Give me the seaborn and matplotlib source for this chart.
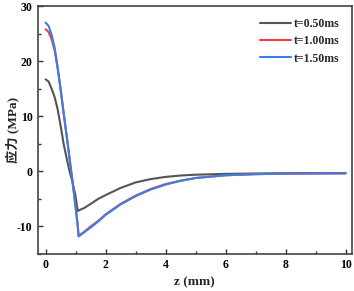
import numpy as np
import pandas as pd
import matplotlib
matplotlib.use('Agg')
import matplotlib.pyplot as plt
from matplotlib.ticker import MultipleLocator
import seaborn as sns

sns.set_theme(style='ticks')
plt.rcParams['font.family'] = ['Liberation Serif', 'Noto Sans CJK SC']
plt.rcParams['font.weight'] = 'bold'
plt.rcParams['axes.unicode_minus'] = False

# 读图得到的数据
z = [0.0, 0.1, 0.2, 0.3, 0.4, 0.5, 0.6, 0.7, 0.8, 0.9, 1.0, 1.07, 1.1,
     1.3, 1.5, 1.75, 2.0, 2.5, 3.0, 3.5, 4.0, 4.5, 5.0, 6.0, 7.0, 8.0, 9.0, 10.0]
s_050 = [16.7, 16.3, 15.0, 13.5, 11.3, 8.3, 5.0, 2.4, 0.0, -2.0, -4.5, -7.2, -7.1,
         -6.6, -5.9, -5.0, -4.3, -3.0, -2.0, -1.4, -1.0, -0.75, -0.6, -0.45, -0.38, -0.33, -0.3, -0.3]
s_100 = [25.8, 25.3, 24.0, 22.0, 18.7, 14.8, 10.6, 6.5, 2.3, -2.0, -6.5, -9.8, -11.7,
         -10.9, -10.0, -9.0, -7.8, -5.9, -4.4, -3.2, -2.3, -1.7, -1.2, -0.7, -0.5, -0.4, -0.37, -0.35]
s_150 = [27.0, 26.4, 24.8, 22.5, 19.0, 15.0, 10.7, 6.5, 2.3, -2.0, -6.5, -9.8, -11.8,
         -11.0, -10.2, -9.1, -7.9, -6.0, -4.5, -3.3, -2.4, -1.7, -1.2, -0.7, -0.5, -0.4, -0.37, -0.35]
labels = ['t=0.50ms', 't=1.00ms', 't=1.50ms']
colors = ['#555555', '#f03c3c', '#3a7ee6']

df = pd.concat([pd.DataFrame({'z': z, 's': v, 't': lab})
                for v, lab in zip([s_050, s_100, s_150], labels)])

fig = plt.figure(figsize=(3.54, 2.91), dpi=100)
ax = fig.add_axes([0.106, 0.127, 0.887, 0.852])
sns.lineplot(data=df, x='z', y='s', hue='t', palette=colors, linewidth=1.5, ax=ax)

ax.set_xlim(-0.27, 10.2)
ax.set_ylim(-15, 30)
ax.xaxis.set_major_locator(MultipleLocator(2))
ax.xaxis.set_minor_locator(MultipleLocator(1))
ax.yaxis.set_major_locator(MultipleLocator(10))
ax.yaxis.set_minor_locator(MultipleLocator(5))
ax.tick_params(which='both', direction='in', labelsize=8.5, colors='#333333', labelcolor='black')
ax.tick_params(which='major', length=3.5, width=1)
ax.tick_params(which='minor', length=2, width=1)
for sp in ax.spines.values():
    sp.set_color('#444444')
    sp.set_linewidth(1.2)

ax.set_xlabel('z (mm)', fontsize=9.5, fontweight='bold')
ax.set_ylabel('应力 (MPa)', fontsize=9.5, fontweight='bold')
ax.yaxis.set_label_coords(-0.058, 0.5)
ax.legend(frameon=False, loc='upper right', fontsize=8.5, handlelength=2.6,
          handletextpad=0.3, labelspacing=0.45, borderaxespad=0.6)

fig.savefig('out.png', dpi=100)
